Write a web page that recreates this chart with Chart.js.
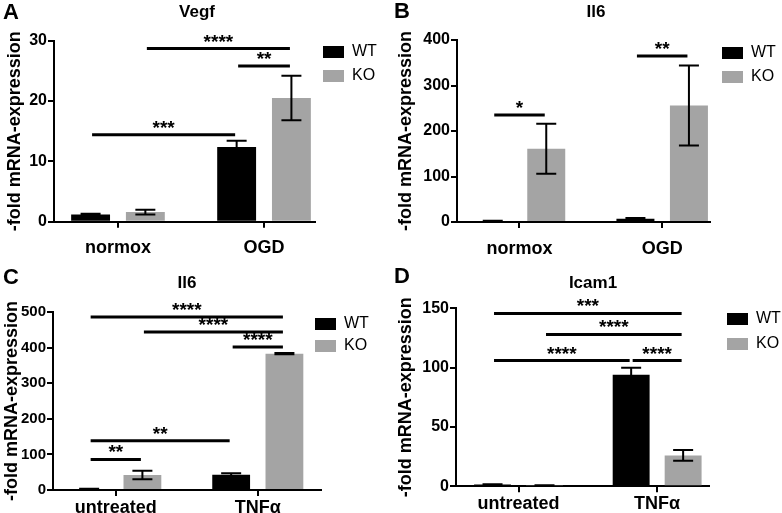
<!DOCTYPE html>
<html>
<head>
<meta charset="utf-8">
<script src="https://cdn.jsdelivr.net/npm/chart.js@4.4.0/dist/chart.umd.min.js"></script>
<style>
  body { margin: 0; background: #fff; }
  #wrap { position: relative; width: 782px; height: 513px; background: #fff; }
  canvas { position: absolute; }
</style>
</head>
<body>
<div id="wrap">
  <canvas id="cA" width="391" height="256" style="left:0;top:0"></canvas>
  <canvas id="cB" width="391" height="256" style="left:391px;top:0"></canvas>
  <canvas id="cC" width="391" height="257" style="left:0;top:256px"></canvas>
  <canvas id="cD" width="391" height="257" style="left:391px;top:256px"></canvas>
</div>
<script>
// series
const seriesNames = ['WT', 'KO'];

// A - Vegf, OGD
const vegfCats = ['normox', 'OGD'];
const vegfWT = [1.2, 12.4];
const vegfWTErr = [0.1, 1.0];
const vegfKO = [1.6, 20.5];
const vegfKOErr = [0.4, 3.7];
const vegfTicks = [0, 10, 20, 30];
// significance: [series, category] -> [series, category], bar height, stars
const vegfSig = [
  { from: [1, 0], to: [1, 1], at: 28.7, text: '****' },
  { from: [0, 1], to: [1, 1], at: 25.8, text: '**' },
  { from: [0, 0], to: [0, 1], at: 14.4, text: '***' }
];

// B - Il6, OGD
const il6OgdCats = ['normox', 'OGD'];
const il6OgdWT = [2, 7];
const il6OgdWTErr = [0.5, 2];
const il6OgdKO = [161, 256];
const il6OgdKOErr = [55, 88];
const il6OgdTicks = [0, 100, 200, 300, 400];
const il6OgdSig = [
  { from: [0, 0], to: [1, 0], at: 235, text: '*' },
  { from: [0, 1], to: [1, 1], at: 365, text: '**' }
];

// C - Il6, TNFa
const il6TnfCats = ['untreated', 'TNF\u03b1'];
const il6TnfWT = [3, 43];
const il6TnfWTErr = [0.5, 4];
const il6TnfKO = [42, 383];
const il6TnfKOErr = [12, 2];
const il6TnfTicks = [0, 100, 200, 300, 400, 500];
const il6TnfSig = [
  { from: [0, 0], to: [1, 1], at: 486, text: '****' },
  { from: [1, 0], to: [1, 1], at: 444, text: '****' },
  { from: [0, 1], to: [1, 1], at: 402, text: '****' },
  { from: [0, 0], to: [0, 1], at: 138, text: '**' },
  { from: [0, 0], to: [1, 0], at: 86, text: '**' }
];

// D - Icam1, TNFa
const icamCats = ['untreated', 'TNF\u03b1'];
const icamWT = [1.5, 94];
const icamWTErr = [0.3, 6];
const icamKO = [0.6, 26];
const icamKOErr = [0.2, 4.5];
const icamTicks = [0, 50, 100, 150];
const icamSig = [
  { from: [0, 0], to: [1, 1], at: 145.7, text: '***' },
  { from: [1, 0], to: [1, 1], at: 128, text: '****' },
  { from: [0, 0], to: [0, 1], at: 106, text: '****' },
  { from: [0, 1], to: [1, 1], at: 106, text: '****' }
];

const FONT = "'Liberation Sans', Arial, Helvetica, sans-serif";
Chart.defaults.font.family = FONT;
Chart.defaults.color = '#000';

function decor(p) {
  return {
    id: 'decor',
    afterLayout(chart) {
      // move the legend next to the plot like in the figure
      const lg = chart.legend;
      const pad = lg.options.labels.padding;
      const dx = p.legend[0] - (lg.left + pad);
      const dy = p.legend[1] - (lg.top + pad + 2);
      lg.left += dx; lg.right += dx;
      lg.top += dy; lg.bottom += dy;
    },
    afterDatasetsDraw(chart) {
      const ctx = chart.ctx;
      const y = chart.scales.y;
      ctx.save();
      ctx.strokeStyle = '#000';
      // error bars
      ctx.lineWidth = 2;
      chart.data.datasets.forEach((ds, s) => {
        chart.getDatasetMeta(s).data.forEach((bar, i) => {
          const v = ds.data[i].y, e = ds.err[i];
          const yt = y.getPixelForValue(v + e), yb = y.getPixelForValue(v - e);
          ctx.beginPath();
          ctx.moveTo(bar.x, yt); ctx.lineTo(bar.x, yb);
          ctx.moveTo(bar.x - 10, yt); ctx.lineTo(bar.x + 10, yt);
          ctx.moveTo(bar.x - 10, yb); ctx.lineTo(bar.x + 10, yb);
          ctx.stroke();
        });
      });
      // significance brackets
      ctx.lineWidth = 3;
      ctx.fillStyle = '#000';
      ctx.font = 'bold 19px ' + FONT;
      ctx.textAlign = 'center';
      ctx.textBaseline = 'alphabetic';
      p.sig.forEach(sg => {
        const x1 = chart.getDatasetMeta(sg.from[0]).data[sg.from[1]].x + 1.5;
        const x2 = chart.getDatasetMeta(sg.to[0]).data[sg.to[1]].x - 1.5;
        const yy = y.getPixelForValue(sg.at);
        ctx.beginPath();
        ctx.moveTo(x1, yy); ctx.lineTo(x2, yy);
        ctx.stroke();
        ctx.fillText(sg.text, (x1 + x2) / 2, yy - 1);
      });
      ctx.restore();
    },
    afterDraw(chart) {
      const ctx = chart.ctx;
      ctx.save();
      ctx.fillStyle = '#000';
      ctx.textBaseline = 'alphabetic';
      ctx.font = 'bold 22px ' + FONT;
      ctx.textAlign = 'left';
      ctx.fillText(p.letter, 3, p.letterY);
      ctx.font = 'bold 17px ' + FONT;
      ctx.textAlign = 'center';
      ctx.fillText(p.title, p.titleXY[0], p.titleXY[1]);
      ctx.restore();
    }
  };
}

function panel(id, p) {
  const canvas = document.getElementById(id);
  const W = canvas.width, H = canvas.height;
  const mk = (vals) => vals.map((v, i) => ({ x: i, y: v }));
  const axisGrid = { drawOnChartArea: false, drawTicks: true, tickLength: 6, color: '#000', lineWidth: 2, offset: false };
  const axisBorder = { display: true, color: '#000', width: 2 };
  const chart = new Chart(canvas, {
    type: 'bar',
    data: {
      datasets: [
        { label: seriesNames[0], data: mk(p.wt), err: p.wtErr, backgroundColor: '#000000',
          borderWidth: 0, categoryPercentage: 0.75, barPercentage: 0.71 },
        { label: seriesNames[1], data: mk(p.ko), err: p.koErr, backgroundColor: '#a4a4a4',
          borderWidth: 0, categoryPercentage: 0.75, barPercentage: 0.71 }
      ]
    },
    options: {
      responsive: false,
      animation: false,
      events: [],
      layout: { padding: { left: 0, top: p.top, right: 0, bottom: 0 } },
      scales: {
        x: {
          type: 'linear',
          offset: false,
          bounds: 'data',
          min: p.xRange[0],
          max: p.xRange[1],
          afterBuildTicks: (s) => { s.ticks = p.cats.map((c, i) => ({ value: i })); },
          afterFit: (s) => { s.height = H - p.bottom; },
          ticks: {
            callback: (v, i) => p.cats[i],
            autoSkip: false, maxRotation: 0, padding: p.xPad,
            font: { size: 18, weight: 'bold' }, color: '#000'
          },
          grid: axisGrid,
          border: axisBorder
        },
        y: {
          min: 0,
          max: p.ticks[p.ticks.length - 1],
          afterBuildTicks: (s) => { s.ticks = p.ticks.map(v => ({ value: v })); },
          afterFit: (s) => { s.width = p.left; },
          ticks: { padding: 1, font: { size: p.tickSize, weight: 'bold' }, color: '#000' },
          grid: axisGrid,
          border: axisBorder,
          title: {
            display: true, text: '-fold mRNA-expression', color: '#000',
            font: { size: 18, weight: 'bold' }, padding: { top: p.titlePad, bottom: 0 }
          }
        }
      },
      plugins: {
        legend: {
          position: 'right',
          align: 'start',
          labels: { boxWidth: 21, boxHeight: 12, padding: p.legendPad, color: '#000', font: { size: 16 } }
        },
        tooltip: { enabled: false },
        title: { display: false }
      }
    },
    plugins: [decor(p), {
      id: 'fitRight',
      beforeLayout(c) {
        // reserve the measured legend width so the plot ends where the figure's axis ends
        const lg = c.legend;
        const w = lg && lg.width ? lg.width : 62;
        c.options.layout.padding.right = Math.max(0, W - w - p.right);
      }
    }]
  });
  // second pass with the measured legend width
  chart.update();
}

panel('cA', {
  letter: 'A', letterY: 19, title: 'Vegf', titleXY: [197, 17],
  cats: vegfCats, wt: vegfWT, wtErr: vegfWTErr, ko: vegfKO, koErr: vegfKOErr,
  ticks: vegfTicks, sig: vegfSig, tickSize: 16, titlePad: 4,
  left: 54, right: 315, top: 40.7, bottom: 221.7, xRange: [-0.438, 1.349], xPad: 10,
  legend: [323, 46], legendPad: 8
});
panel('cB', {
  letter: 'B', letterY: 18, title: 'Il6', titleXY: [205, 17],
  cats: il6OgdCats, wt: il6OgdWT, wtErr: il6OgdWTErr, ko: il6OgdKO, koErr: il6OgdKOErr,
  ticks: il6OgdTicks, sig: il6OgdSig, tickSize: 16, titlePad: 4,
  left: 66, right: 325, top: 40, bottom: 222, xRange: [-0.438, 1.336], xPad: 10,
  legend: [331, 47], legendPad: 8
});
panel('cC', {
  letter: 'C', letterY: 28, title: 'Il6', titleXY: [187, 32],
  cats: il6TnfCats, wt: il6TnfWT, wtErr: il6TnfWTErr, ko: il6TnfKO, koErr: il6TnfKOErr,
  ticks: il6TnfTicks, sig: il6TnfSig, tickSize: 15, titlePad: 1,
  left: 53, right: 322, top: 56, bottom: 234, xRange: [-0.442, 1.446], xPad: 1,
  legend: [315, 62], legendPad: 6
});
panel('cD', {
  letter: 'D', letterY: 27, title: 'Icam1', titleXY: [202, 32],
  cats: icamCats, wt: icamWT, wtErr: icamWTErr, ko: icamKO, koErr: icamKOErr,
  ticks: icamTicks, sig: icamSig, tickSize: 16, titlePad: 4,
  left: 65, right: 328, top: 52.3, bottom: 230.3, xRange: [-0.451, 1.375], xPad: 1,
  legend: [336, 57], legendPad: 9
});
</script>
</body>
</html>
